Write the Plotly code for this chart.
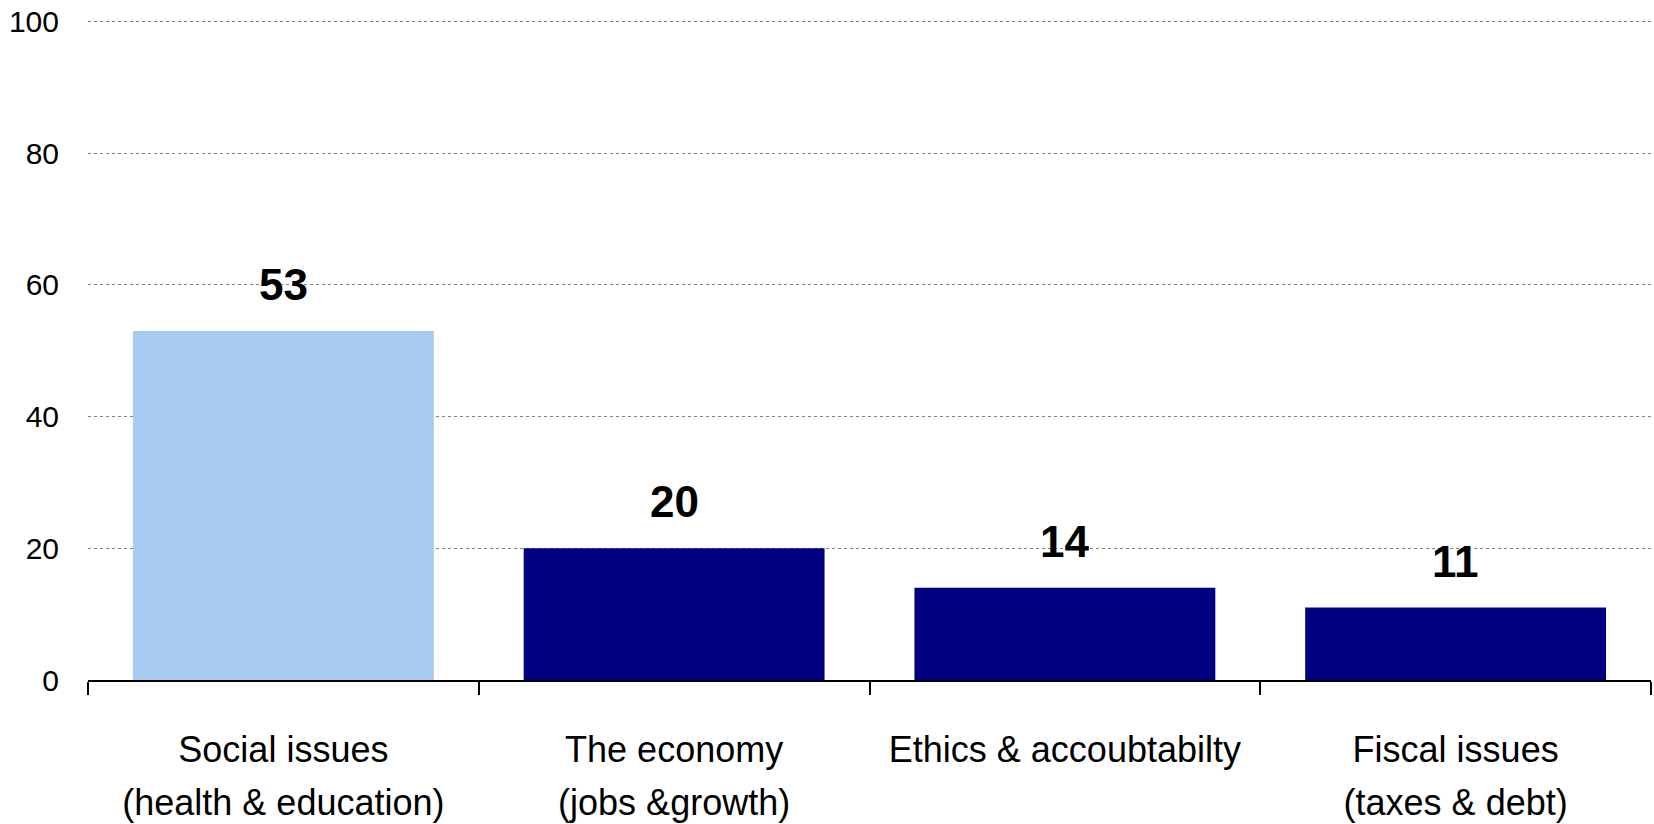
import plotly.graph_objects as go

categories = ["Social issues<br>(health & education)", "The economy<br>(jobs &growth)",
              "Ethics & accoubtabilty", "Fiscal issues<br>(taxes & debt)"]
values = [53, 20, 14, 11]
colors = ["#A6CAF0", "#000080", "#000080", "#000080"]
y_ticks = [0, 20, 40, 60, 80, 100]

FONT = "Liberation Sans, Arial, sans-serif"

fig = go.Figure()
fig.add_trace(go.Bar(x=categories, y=values, marker=dict(color=colors, line=dict(width=0)),
                     hoverinfo="x+y"))

for c, v in zip(categories, values):
    fig.add_annotation(x=c, y=v, text=f"<b>{v}</b>", showarrow=False, yanchor="bottom",
                       yshift=20, font=dict(family=FONT, size=44, color="black"))

tick_text = ["<br>".join(f'<span style="font-size:36px">{part}</span>' for part in c.split("<br>"))
             for c in categories]

fig.update_layout(
    width=1654, height=824,
    margin=dict(l=88, r=3, t=20, b=144, autoexpand=False),
    paper_bgcolor="white", plot_bgcolor="white",
    bargap=0.23, showlegend=False,
    font=dict(family=FONT, color="black"),
)
fig.update_xaxes(
    range=[-0.5, 3.5], showline=True, linecolor="black", linewidth=1.5,
    ticks="outside", tickson="boundaries", ticklen=13, tickcolor="black", tickwidth=1.5,
    tickmode="array", tickvals=categories, ticktext=tick_text,
    tickfont=dict(family=FONT, size=41, color="black"), showgrid=False,
    ticklabelstandoff=31, ticklabeloverflow="allow", automargin=False,
)
fig.update_yaxes(
    range=[0, 100.2], tickvals=y_ticks, showline=False, zeroline=False,
    showgrid=True, gridcolor="#808080", griddash="dot", gridwidth=1,
    tickfont=dict(family=FONT, size=30, color="black"), ticklabelstandoff=28,
    ticklabeloverflow="allow", automargin=False,
)

fig.write_html("out.html", config={"displayModeBar": False},
               post_script="document.body.style.margin='0';")
